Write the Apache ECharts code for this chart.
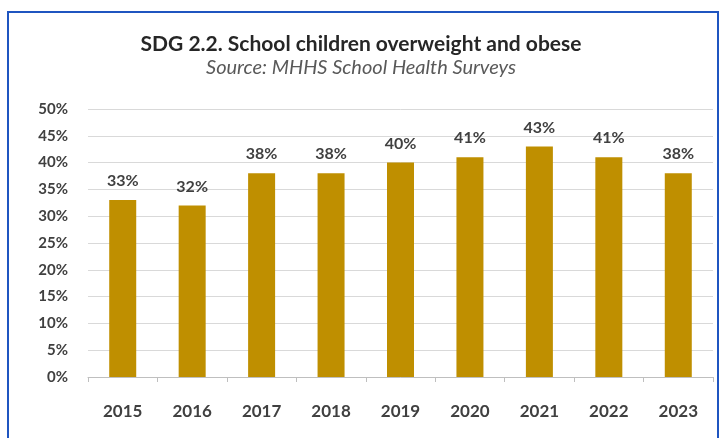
<!DOCTYPE html>
<html><head><meta charset="utf-8">
<script src="https://cdn.jsdelivr.net/npm/echarts@6/dist/echarts.min.js"></script>
<style>html,body{margin:0;padding:0;background:#fff}#c{width:722px;height:438px}</style>
</head><body><div id="c"></div>
<script>
const categories = ['2015','2016','2017','2018','2019','2020','2021','2022','2023'];
const values = [33, 32, 38, 38, 40, 41, 43, 41, 38];
const titleText = 'SDG 2.2. School children overweight and obese';
const subtitleText = 'Source: MHHS School Health Surveys';

const chart = echarts.init(document.getElementById('c'), null, {renderer: 'canvas'});
chart.setOption({
  animation: false,
  backgroundColor: '#fff',
  textStyle: {fontFamily: 'Lato'},
  title: [{
    text: titleText,
    left: 'center', top: 34, padding: 0,
    textStyle: {fontFamily: 'Lato', fontSize: 21, fontWeight: 'bold', color: '#262626'}
  }, {
    text: subtitleText,
    left: 'center', top: 58, padding: 0,
    textStyle: {fontFamily: 'Lato', fontSize: 20, fontStyle: 'italic', fontWeight: 'normal', color: '#595959'}
  }],
  graphic: [{type: 'rect', shape: {x: 8, y: 12, width: 710, height: 440}, style: {fill: 'none', stroke: '#1F55C0', lineWidth: 2}, silent: true}],
  grid: {left: 88, right: 9, top: 109, bottom: 61, containLabel: false},
  xAxis: {
    type: 'category', data: categories,
    axisLine: {lineStyle: {color: '#BFBFBF'}},
    axisTick: {show: true, lineStyle: {color: '#BFBFBF'}},
    axisLabel: {margin: 26, fontFamily: 'Lato', fontSize: 17, fontWeight: 'bold', color: '#404040'}
  },
  yAxis: {
    type: 'value', min: 0, max: 50, interval: 5,
    axisLine: {show: false}, axisTick: {show: false},
    splitLine: {lineStyle: {color: '#D9D9D9'}},
    axisLabel: {formatter: '{value}%', margin: 20, fontFamily: 'Lato', fontSize: 15, fontWeight: 'bold', color: '#404040'}
  },
  series: [{
    type: 'bar', data: values, barWidth: 27,
    itemStyle: {color: '#BF8F00'},
    label: {show: true, position: 'top', distance: 11, formatter: '{c}%', fontFamily: 'Lato', fontSize: 16, fontWeight: 'bold', color: '#404040'}
  }]
});
</script></body></html>
